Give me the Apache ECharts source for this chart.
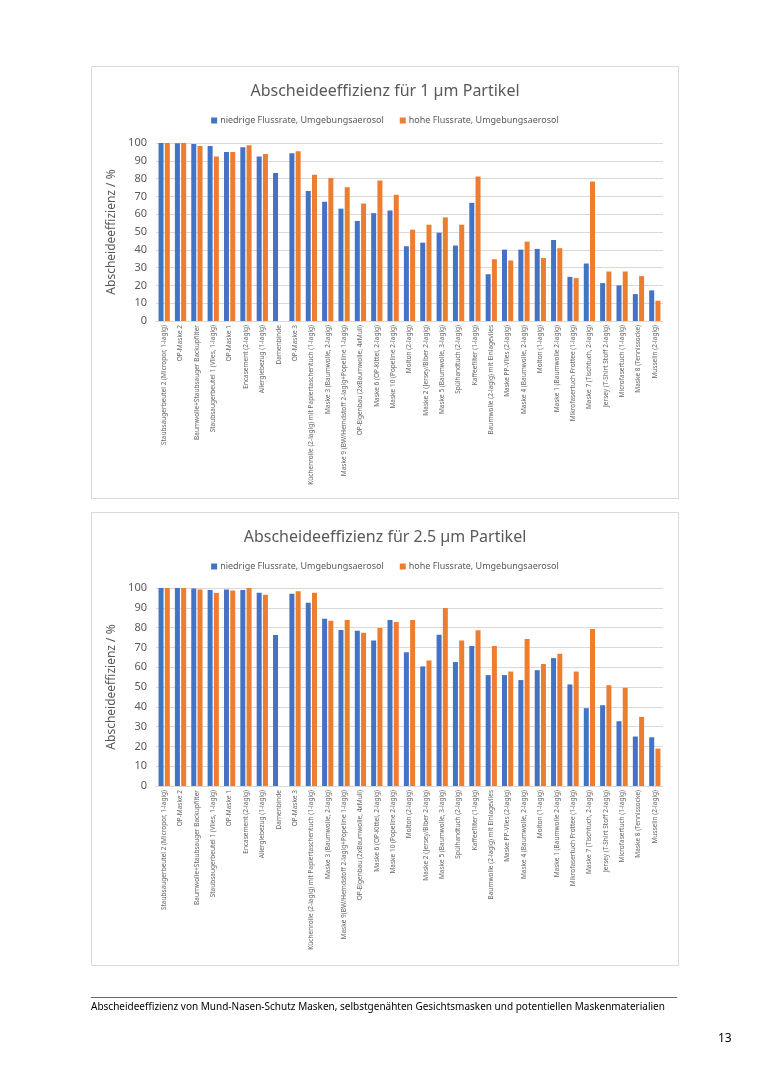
<!DOCTYPE html>
<html>
<head>
<meta charset="utf-8">
<script src="https://cdn.jsdelivr.net/npm/echarts@6/dist/echarts.min.js"></script>
<style>
html,body{margin:0;padding:0;background:#fff;}
#c{width:770px;height:1089px;}
</style>
</head>
<body>
<div id="c"></div>
<script>
const categories = [
  "Staubsaugerbeutel 2 (Micropor, 1-lagig)",
  "OP-Maske 2",
  "Baumwolle+Staubsauger Backupfilter",
  "Staubsaugerbeutel 1 (Vlies, 1-lagig)",
  "OP-Maske 1",
  "Encasement (2-lagig)",
  "Allergiebezug (1-lagig)",
  "Damenbinde",
  "OP-Maske 3",
  "Küchenrolle (2-lagig) mit Papiertaschentuch (1-lagig)",
  "Maske 3 (Baumwolle, 2-lagig)",
  "Maske 9 (BW/Hemdstoff 2-lagig+Popeline 1-lagig)",
  "OP-Eigenbau (2xBaumwolle, 4xMull)",
  "Maske 6 (OP-Kittel, 2-lagig)",
  "Maske 10 (Popeline 2-lagig)",
  "Molton (2-lagig)",
  "Maske 2 (Jersey/Biber 2-lagig)",
  "Maske 5 (Baumwolle, 3-lagig)",
  "Spülhandtuch (2-lagig)",
  "Kaffeefilter (1-lagig)",
  "Baumwolle (2-lagig) mit Einlagevlies",
  "Maske PP-Vlies (2-lagig)",
  "Maske 4 (Baumwolle, 2-lagig)",
  "Molton (1-lagig)",
  "Maske 1 (Baumwolle 2-lagig)",
  "Mikrofasertuch Frottee (1-lagig)",
  "Maske 7 (Tischtuch, 2-lagig)",
  "Jersey (T-Shirt Stoff 2-lagig)",
  "Microfasertuch (1-lagig)",
  "Maske 8 (Tennissocke)",
  "Musselin (2-lagig)"
];
const categories25 = categories.slice();
categories25[11] = "Maske 9(BW/Hemdstoff 2-lagig+Popeline 1-lagig)";

const seriesNames = ["niedrige Flussrate, Umgebungsaerosol", "hohe Flussrate, Umgebungsaerosol"];

const low1um = [100, 99.8, 99.4, 98.3, 95.0, 97.6, 92.4, 83.2, 94.2, 73.1, 67.0, 63.1, 56.2, 60.6, 62.1, 42.0, 44.0, 49.6, 42.4, 66.4, 26.3, 40.1, 40.1, 40.5, 45.5, 24.8, 32.3, 21.3, 20.0, 15.1, 17.2];
const high1um = [100, 100, 98.3, 92.4, 95.0, 98.7, 93.8, null, 95.3, 82.1, 80.4, 75.2, 66.0, 78.9, 70.9, 51.3, 54.1, 58.2, 54.1, 81.2, 34.7, 34.0, 44.6, 35.4, 40.9, 24.1, 78.4, 27.8, 27.8, 25.2, 11.4];

const low25um = [100, 100, 99.7, 99.0, 99.3, 99.0, 97.6, 76.2, 97.1, 92.6, 84.5, 78.8, 78.4, 73.5, 83.8, 67.5, 60.4, 76.4, 62.6, 70.7, 56.0, 56.0, 53.5, 58.5, 64.6, 51.3, 39.3, 40.8, 32.7, 25.0, 24.6];
const high25um = [100, 100, 99.3, 97.5, 98.8, 100, 96.6, null, 98.3, 97.6, 83.5, 83.8, 77.4, 79.8, 82.8, 83.8, 63.4, 89.9, 73.5, 78.6, 70.7, 57.8, 74.2, 61.6, 66.8, 57.8, 79.3, 50.9, 49.6, 34.9, 18.9];

const yTicks = [0, 10, 20, 30, 40, 50, 60, 70, 80, 90, 100];
const titles = ["Abscheideeffizienz für 1 µm Partikel", "Abscheideeffizienz für 2.5 µm Partikel"];
const yAxisName = "Abscheideeffizienz / %";
const footerText = "Abscheideeffizienz von Mund-Nasen-Schutz Masken, selbstgenähten Gesichtsmasken und potentiellen Maskenmaterialien";
const pageNumber = "13";

const FONT = "Noto Sans";
const TXT = "#595959";
const BLUE = "#4472C4";
const ORANGE = "#ED7D31";

const chart = echarts.init(document.getElementById('c'));

function xAxisFor(idx, cats) {
  return {
    type: 'category', gridIndex: idx, data: cats,
    axisLine: {lineStyle: {color: '#d9d9d9'}},
    axisTick: {show: false},
    axisLabel: {rotate: 90, interval: 0, fontSize: 6.5, color: '#666', fontFamily: FONT, margin: 4}
  };
}
function yAxisFor(idx) {
  return {
    type: 'value', gridIndex: idx, min: yTicks[0], max: yTicks[yTicks.length-1], interval: yTicks[1]-yTicks[0],
    name: yAxisName, nameLocation: 'middle', nameGap: 29,
    nameTextStyle: {fontSize: 12, color: TXT, fontFamily: FONT},
    axisLine: {show: false}, axisTick: {show: false},
    axisLabel: {fontSize: 11, color: TXT, fontFamily: FONT, margin: 9},
    splitLine: {lineStyle: {color: '#d9d9d9', width: 1}}
  };
}
function barSeries(name, data, idx, color) {
  return {
    name: name, type: 'bar', xAxisIndex: idx, yAxisIndex: idx, data: data,
    barWidth: 5, barGap: '25%', itemStyle: {color: color}, animation: false
  };
}

const option = {
  animation: false,
  backgroundColor: '#fff',
  title: [
    {text: titles[0], left: 'center', top: 78, textStyle: {fontSize: 16, fontWeight: 'normal', color: TXT, fontFamily: FONT}},
    {text: titles[1], left: 'center', top: 524, textStyle: {fontSize: 16, fontWeight: 'normal', color: TXT, fontFamily: FONT}}
  ],
  legend: [
    {top: 111, left: 'center', itemWidth: 6, itemHeight: 6, itemGap: 16, icon: 'rect',
     textStyle: {fontSize: 9, color: TXT, fontFamily: FONT, padding: [0,0,0,-2]}, data: seriesNames},
    {top: 557, left: 'center', itemWidth: 6, itemHeight: 6, itemGap: 16, icon: 'rect',
     textStyle: {fontSize: 9, color: TXT, fontFamily: FONT, padding: [0,0,0,-2]}, data: seriesNames}
  ],
  grid: [
    {left: 156, right: 107, top: 143, height: 178},
    {left: 156, right: 107, top: 588, height: 198}
  ],
  xAxis: [xAxisFor(0, categories), xAxisFor(1, categories25)],
  yAxis: [yAxisFor(0), yAxisFor(1)],
  series: [
    barSeries(seriesNames[0], low1um, 0, BLUE),
    barSeries(seriesNames[1], high1um, 0, ORANGE),
    barSeries(seriesNames[0], low25um, 1, BLUE),
    barSeries(seriesNames[1], high25um, 1, ORANGE)
  ],
  graphic: [
    {type: 'rect', shape: {x: 91.5, y: 66.5, width: 587, height: 432}, style: {fill: 'none', stroke: '#d9d9d9', lineWidth: 1}, z: -1},
    {type: 'rect', shape: {x: 91.5, y: 512.5, width: 587, height: 453}, style: {fill: 'none', stroke: '#d9d9d9', lineWidth: 1}, z: -1},
    {type: 'line', shape: {x1: 91, y1: 997.5, x2: 677, y2: 997.5}, style: {stroke: '#404040', lineWidth: 0.8}},
    {type: 'text', left: 91, top: 1002, style: {text: footerText, fontSize: 10, fill: '#000', fontFamily: FONT}},
    {type: 'text', left: 718, top: 1033, style: {text: pageNumber, fontSize: 12, fill: '#000', fontFamily: FONT}}
  ]
};
chart.setOption(option);
</script>
</body>
</html>
